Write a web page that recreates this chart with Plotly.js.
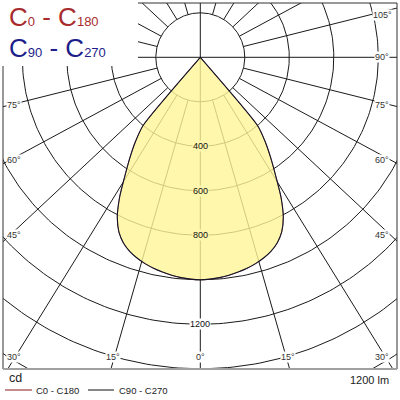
<!DOCTYPE html>
<html><head><meta charset="utf-8">
<script src="https://cdn.plot.ly/plotly-3.0.1.min.js"></script>
<style>html,body{margin:0;padding:0;background:#fff;}#chart{width:400px;height:400px;}</style>
</head><body><div id="chart"></div>
<script>
// ---- data ----
const gammaDeg   = [0, 2.5, 5, 7.5, 10, 12.5, 15, 17.5, 20, 22.5, 25, 27.5, 30, 32.5, 35, 37.5, 40, 42.5, 45];
const cdC0C180   = [1000, 998, 994, 988, 980, 971, 960, 946, 928, 903, 866, 808, 725, 630, 552, 480, 400, 0, 0];
const cdC90C270  = [1000, 998, 994, 988, 980, 971, 960, 946, 928, 903, 866, 808, 725, 630, 552, 480, 400, 0, 0];
const gridCircles  = [200, 400, 600, 800, 1000, 1200, 1400, 1600];
const circleLabels = [400, 600, 800, 1200];
const gridAngles   = [0, 15, 30, 45, 60, 75, 90, 105, 120, 135, 150, 165, 180];
const angleLabels  = [-75, -60, -45, -30, -15, 0, 15, 30, 45, 60, 75, 90, 105];
const legendNames  = ['C0 - C180', 'C90 - C270'];
const fluxText     = '1200 lm';
const unitText     = 'cd';

// ---- geometry / style ----
const PX = 0.2225, CD = 1 / PX;          // px per cd
const cx = 200.3, cy = 57.3;             // pole position (px)
const L = 3, R = 397, T = 3, B = 369;    // frame (px)
const X0 = (L - cx) * CD, X1 = (R - cx) * CD, YT = (cy - T) * CD, YB = (cy - B) * CD;
const K = 1.07;                          // horizontal stretch of the radial grid lines
const FONT = 'Liberation Sans, Arial, sans-serif';
const rad = d => d * Math.PI / 180;
const xp = px => (px - L) / (R - L);
const yp = py => (B - py) / (B - T);

// grid circles
const gcx = [], gcy = [];
gridCircles.forEach(r => {
  for (let i = 0; i <= 360; i++) { gcx.push(r * Math.sin(rad(i))); gcy.push(r * Math.cos(rad(i))); }
  gcx.push(null); gcy.push(null);
});
// radial lines
function dirOf(a) { const dx = K * Math.sin(rad(a)), dy = -Math.cos(rad(a)); const n = Math.hypot(dx, dy); return [dx / n, dy / n]; }
const grx = [], gry = [];
gridAngles.forEach(a => {
  [1, -1].forEach(s => {
    if ((a === 0 || a === 180) && s === -1) return;
    const [dx, dy] = dirOf(s * a);
    const r0 = (a % 90 === 0) ? 0 : gridCircles[0];
    grx.push(dx * r0, dx * 3000, null); gry.push(dy * r0, dy * 3000, null);
  });
});
// light distribution curves (C0 on the right, C180 mirrored on the left)
function curve(vals) {
  const x = [], y = [];
  for (let i = gammaDeg.length - 1; i > 0; i--) { x.push(-vals[i] * Math.sin(rad(gammaDeg[i]))); y.push(-vals[i] * Math.cos(rad(gammaDeg[i]))); }
  for (let i = 0; i < gammaDeg.length; i++) { x.push(vals[i] * Math.sin(rad(gammaDeg[i]))); y.push(-vals[i] * Math.cos(rad(gammaDeg[i]))); }
  return { x, y };
}
const c1 = curve(cdC0C180), c2 = curve(cdC90C270);

const traces = [
  { x: gcx, y: gcy, mode: 'lines', line: { color: '#1a1a1a', width: 1 }, hoverinfo: 'skip' },
  { x: grx, y: gry, mode: 'lines', line: { color: '#1a1a1a', width: 1 }, hoverinfo: 'skip' },
  { x: c1.x, y: c1.y, mode: 'lines', fill: 'toself', fillcolor: 'rgba(255,245,150,0.8)', line: { color: '#7a1a1a', width: 0.6, shape: 'spline', smoothing: 0.6 }, hoverinfo: 'skip' },
  { x: c2.x, y: c2.y, mode: 'lines', line: { color: '#141428', width: 1.1, shape: 'spline', smoothing: 0.6 }, hoverinfo: 'skip' }
];

const ann = [];
// intensity labels on the 0° axis
circleLabels.forEach(v => {
  ann.push({ x: 0, y: -v, xref: 'x', yref: 'y', text: String(v), showarrow: false,
    font: { family: FONT, size: 9, color: '#111' }, bgcolor: v < cdC0C180[0] ? '#FFF7AB' : '#ffffff', borderpad: 0 });
});
// angle labels where the rays leave the frame
const inX0 = (10 - cx) * CD, inX1 = (390 - cx) * CD, inYB = (362 - cy) * -CD;
const labXL = (14 - cx) * CD, labXR = (382 - cx) * CD, labYB = (cy - 357.3) * CD, labYT = (cy - 14.7) * CD;
angleLabels.forEach(a => {
  const [dx, dy] = dirOf(a);
  const tx = dx > 0 ? inX1 / dx : (dx < 0 ? inX0 / dx : Infinity);
  const ty = dy < 0 ? inYB / dy : Infinity;
  let x, y;
  if (ty <= tx) { y = labYB; x = Math.min(Math.max(dx * ty, labXL), labXR); }
  else { x = dx > 0 ? labXR : labXL; y = Math.min(Math.max(dy * tx, labYB), labYT); }
  ann.push({ x, y, xref: 'x', yref: 'y', text: Math.abs(a) + '°', showarrow: false,
    font: { family: FONT, size: 9, color: '#333' }, bgcolor: '#ffffff', borderpad: 0 });
});
// big legend top-left
ann.push({ x: xp(7), y: yp(17.5), xref: 'paper', yref: 'paper', xanchor: 'left', yanchor: 'middle', showarrow: false,
  text: "C<span style='font-size:13px'>0</span> - C<span style='font-size:13px'>180</span>",
  font: { family: FONT, size: 26, color: '#a82c2c' } });
ann.push({ x: xp(7), y: yp(48), xref: 'paper', yref: 'paper', xanchor: 'left', yanchor: 'middle', showarrow: false,
  text: "C<span style='font-size:13px'>90</span> - C<span style='font-size:13px'>270</span>",
  font: { family: FONT, size: 26, color: '#1e1e8a' } });
// bottom texts
ann.push({ x: xp(7), y: yp(378), xref: 'paper', yref: 'paper', xanchor: 'left', yanchor: 'middle', showarrow: false,
  text: unitText, font: { family: FONT, size: 12.5, color: '#222' } });
ann.push({ x: xp(34), y: yp(390), xref: 'paper', yref: 'paper', xanchor: 'left', yanchor: 'middle', showarrow: false,
  text: legendNames[0], font: { family: FONT, size: 9.5, color: '#222' } });
ann.push({ x: xp(117), y: yp(390), xref: 'paper', yref: 'paper', xanchor: 'left', yanchor: 'middle', showarrow: false,
  text: legendNames[1], font: { family: FONT, size: 9.5, color: '#222' } });
ann.push({ x: xp(391), y: yp(380), xref: 'paper', yref: 'paper', xanchor: 'right', yanchor: 'middle', showarrow: false,
  text: fluxText, font: { family: FONT, size: 11, color: '#222' } });

const shapes = [
  { type: 'line', xref: 'paper', yref: 'paper', x0: 0, x1: 0, y0: 0, y1: 1, line: { color: '#333', width: 1 }, layer: 'above' },
  { type: 'line', xref: 'paper', yref: 'paper', x0: 1, x1: 1, y0: 0, y1: 1, line: { color: '#333', width: 1 }, layer: 'above' },
  { type: 'line', xref: 'paper', yref: 'paper', x0: 0, x1: 1, y0: 1, y1: 1, line: { color: '#333', width: 1 }, layer: 'above' },
  { type: 'line', xref: 'paper', yref: 'paper', x0: 0, x1: 1, y0: 0, y1: 0, line: { color: '#a0a0a0', width: 2 }, layer: 'above' },
  { type: 'rect', xref: 'paper', yref: 'paper', x0: xp(0), x1: xp(138), y0: yp(66), y1: yp(0), fillcolor: '#ffffff', line: { width: 0 }, layer: 'above' },
  { type: 'line', xref: 'paper', yref: 'paper', x0: xp(5), x1: xp(32), y0: yp(390), y1: yp(390), line: { color: '#8b1a1a', width: 1 } },
  { type: 'line', xref: 'paper', yref: 'paper', x0: xp(88), x1: xp(114), y0: yp(390), y1: yp(390), line: { color: '#111', width: 1 } }
];

Plotly.newPlot('chart', traces, {
  width: 400, height: 400, margin: { l: L, r: 400 - R, t: T, b: 400 - B, pad: 0 },
  paper_bgcolor: '#ffffff', plot_bgcolor: '#ffffff', showlegend: false, hovermode: false,
  xaxis: { range: [X0, X1], visible: false, fixedrange: true },
  yaxis: { range: [YB, YT], visible: false, fixedrange: true },
  annotations: ann, shapes: shapes
}, { staticPlot: true, displayModeBar: false });
</script></body></html>
